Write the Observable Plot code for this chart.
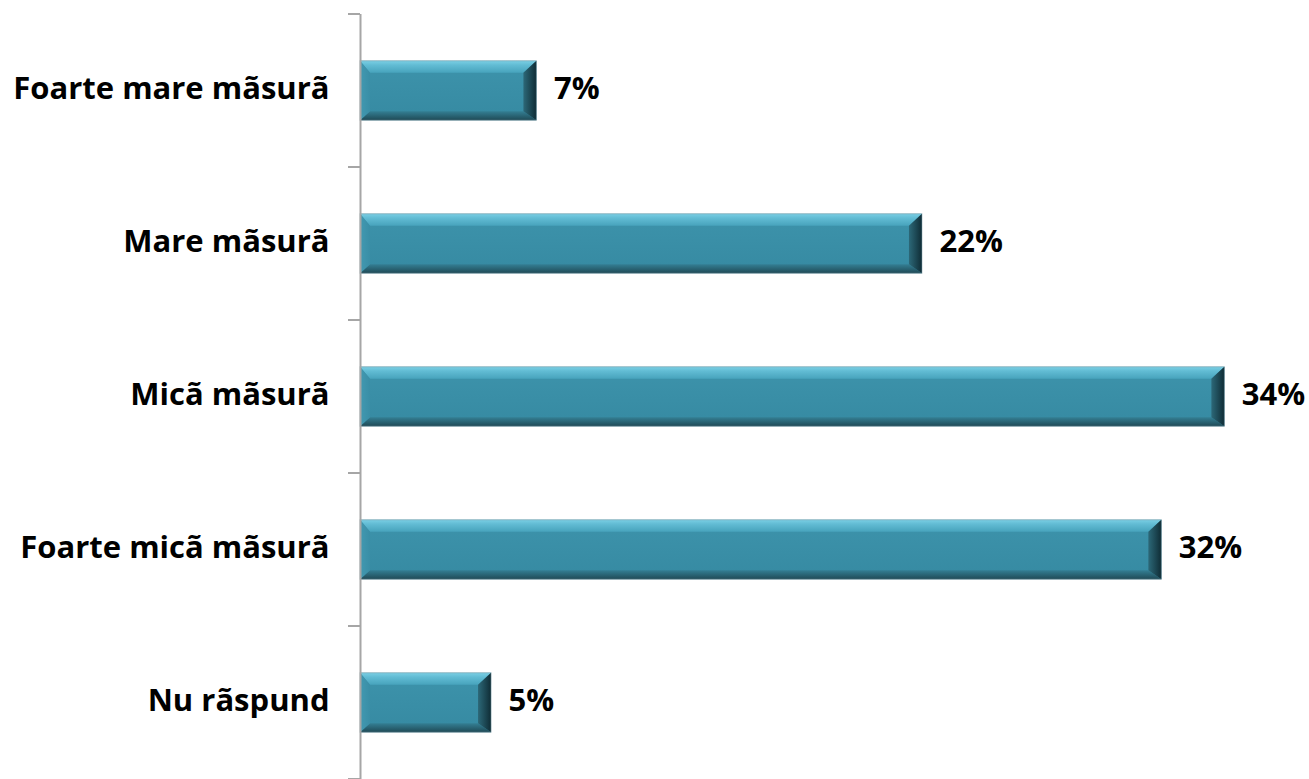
<!DOCTYPE html>
<html>
<head>
<meta charset="utf-8">
<script src="https://cdn.jsdelivr.net/npm/d3@7"></script>
<script src="https://cdn.jsdelivr.net/npm/@observablehq/plot@0.6"></script>
<style>
  html, body { margin: 0; padding: 0; background: #fff; }
  #chart svg { display: block; }
</style>
</head>
<body>
<div id="chart"></div>
<script>
const categories = ["Foarte mare mãsurã", "Mare mãsurã", "Micã mãsurã", "Foarte micã mãsurã", "Nu rãspund"];
const values = [7.0, 22.3, 34.3, 31.8, 5.2];
const valueLabels = ["7%", "22%", "34%", "32%", "5%"];

const data = categories.map((c, i) => ({category: c, value: values[i], label: valueLabels[i]}));

const FONT = "'Open Sans', Lato, sans-serif";
const BAR = 60;
const step = (782 - 14) / categories.length;
const inset = (step - BAR) / 2;

const chart = Plot.plot({
  width: 1309,
  height: 779,
  marginLeft: 360,
  marginRight: 0,
  marginTop: 14,
  marginBottom: 0,
  style: {fontFamily: FONT, background: "#fff", overflow: "visible"},
  x: {domain: [0, 37.5], range: [360, 1305], axis: null},
  y: {domain: categories, range: [12, 780], padding: 0, label: null},
  marks: [
    Plot.axisY({tickSize: 0, tickPadding: 31, fontSize: 31, fontWeight: "bold", fill: "#000", label: null, dy: -2}),
    Plot.barX(data, {x: "value", y: "category", fill: "#3A8EA6", insetTop: inset, insetBottom: inset, className: "bevelbar"}),
    Plot.text(data, {x: "value", y: "category", text: "label", dx: 17, dy: -2, textAnchor: "start", fontSize: 31, fontWeight: "bold", fill: "#000"}),
    Plot.ruleX([0], {stroke: "#A6A6A6", strokeWidth: 2})
  ]
});

document.getElementById("chart").appendChild(chart);

// category boundary tick marks, positioned with the library's y scale
const ys = chart.scale("y");
const svg = d3.select(chart);
const tickG = svg.append("g");
categories.forEach((c) => {
  const yy = ys.apply(c);
  tickG.append("line").attr("x1", 348).attr("x2", 360).attr("y1", yy).attr("y2", yy)
    .attr("stroke", "#A6A6A6").attr("stroke-width", 2);
});
const last = ys.apply(categories[categories.length - 1]) + ys.bandwidth;
tickG.append("line").attr("x1", 348).attr("x2", 360).attr("y1", last).attr("y2", last)
  .attr("stroke", "#A6A6A6").attr("stroke-width", 2);

// bevel effect on bars
const defs = svg.insert("defs", ":first-child");
function grad(id, x2, y2, stops) {
  const g = defs.append("linearGradient").attr("id", id).attr("x1", 0).attr("y1", 0).attr("x2", x2).attr("y2", y2);
  stops.forEach(([o, c]) => g.append("stop").attr("offset", o).attr("stop-color", c));
}
grad("gTop", 0, 1, [[0, "#7ACFE4"], [0.35, "#62BCD4"], [1, "#47A3BC"]]);
grad("gBot", 0, 1, [[0, "#347F94"], [1, "#1F4A56"]]);
grad("gRight", 1, 0, [[0, "#2C6878"], [1, "#0F2C35"]]);
grad("gLeft", 1, 0, [[0, "#4299B1"], [1, "#3A8EA6"]]);
grad("gFace", 0, 1, [[0, "#3D93AB"], [1, "#368AA2"]]);

svg.selectAll(".bevelbar rect").each(function() {
  const r = d3.select(this);
  const x = +r.attr("x"), y = +r.attr("y"), w = +r.attr("width"), h = +r.attr("height");
  r.attr("fill", "url(#gFace)");
  const p = d3.select(this.parentNode);
  const bt = 12, bb = 9, br = 13, bl = 10;
  const poly = (pts, fill) => p.append("polygon").attr("points", pts.map(q => q.join(",")).join(" ")).attr("fill", fill);
  poly([[x, y], [x + w, y], [x + w - br, y + bt], [x + bl, y + bt]], "url(#gTop)");
  poly([[x, y + h], [x + w, y + h], [x + w - br, y + h - bb], [x + bl, y + h - bb]], "url(#gBot)");
  poly([[x, y], [x + bl, y + bt], [x + bl, y + h - bb], [x, y + h]], "url(#gLeft)");
  poly([[x + w, y], [x + w - br, y + bt], [x + w - br, y + h - bb], [x + w, y + h]], "url(#gRight)");
  p.append("rect").attr("x", x).attr("y", y).attr("width", w).attr("height", h)
    .attr("fill", "none").attr("stroke", "rgba(120,150,160,0.5)").attr("stroke-width", 1);
});
</script>
</body>
</html>
